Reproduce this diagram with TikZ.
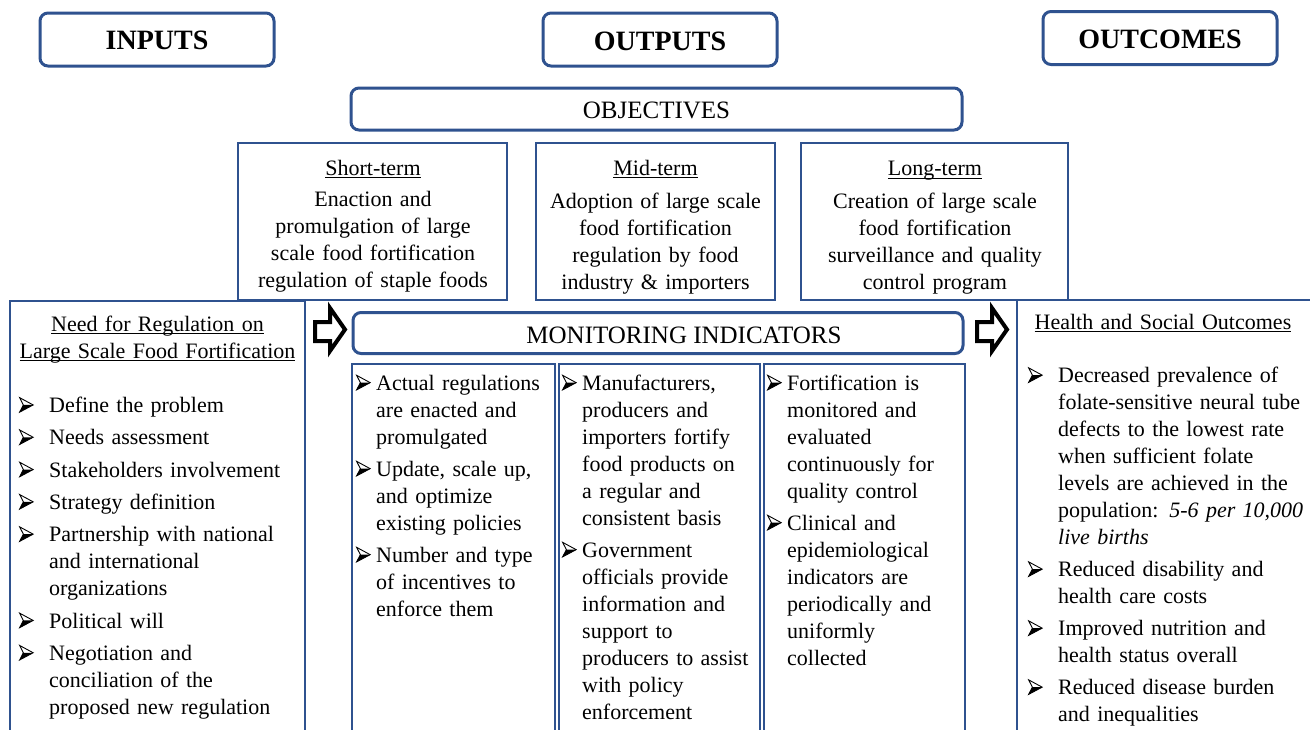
\documentclass[tikz,border=0pt]{standalone}
\usepackage{fontspec}
\setmainfont{Liberation Serif}
\definecolor{bblue}{RGB}{47,82,143}
\newcommand\bodyfont{\fontsize{22}{27}\selectfont}
\newsavebox\bulbox
\newcommand\bul{\usebox\bulbox}
\newcommand\nl{\hfil\break}
\newsavebox\ulbox
\newcommand\myul[1]{\leavevmode\sbox\ulbox{#1}\rlap{\rule[-3pt]{\wd\ulbox}{1.1pt}}\usebox\ulbox}
\newcommand\bitem[2][30pt]{\par\hangindent=#1\hangafter=1\noindent\strut\makebox[#1][l]{\bul}#2\strut\par}
\tikzset{
  hdr/.style={draw=bblue, line width=3pt, rounded corners=8pt, fill=white, inner sep=0pt, text depth=0pt},
  termbox/.style={draw=bblue, line width=1.4pt, fill=white, inner sep=0pt},
  bigbox/.style={draw=bblue, line width=2.6pt, fill=white, inner sep=0pt},
  colbox/.style={draw=bblue, line width=1.3pt, fill=white, inner sep=0pt},
  hdrtext/.style={font=\fontsize{28}{30}\selectfont\bfseries},
  subtext/.style={font=\fontsize{25}{28}\selectfont},
  txt/.style={inner sep=0pt, font=\bodyfont},
  blockarrow/.style={draw=black, line width=4pt, fill=white, line join=miter}
}
\begin{document}
\sbox\bulbox{\begin{pgfpicture}%
  \pgfsetlinewidth{0.9pt}\pgfsetmiterjoin
  \pgfpathmoveto{\pgfpoint{0.5pt}{14.5pt}}%
  \pgfpathlineto{\pgfpoint{14pt}{7.2pt}}%
  \pgfpathlineto{\pgfpoint{0.5pt}{0pt}}%
  \pgfpathlineto{\pgfpoint{4.2pt}{7.2pt}}%
  \pgfpathclose
  \pgfusepath{stroke}%
  \pgfpathmoveto{\pgfpoint{14pt}{7.2pt}}%
  \pgfpathlineto{\pgfpoint{0.5pt}{0pt}}%
  \pgfpathlineto{\pgfpoint{4.2pt}{7.2pt}}%
  \pgfpathclose
  \pgfusepath{fill}%
\end{pgfpicture}}%
\begin{tikzpicture}[x=1pt,y=-1pt]
\clip (0,0) rectangle (1310,729);
\fill[white] (0,0) rectangle (1310,729);
% headers
\node[hdr, minimum width=234pt, minimum height=53pt, hdrtext, text height=19.5pt] (inputs) at (157,39.5) {INPUTS};
\node[hdr, minimum width=234pt, minimum height=53pt, hdrtext, text height=21.5pt] (outputs) at (660,39.5) {OUTPUTS};
\node[hdr, minimum width=234pt, minimum height=53pt, hdrtext, text height=20.5pt] (outcomes) at (1160,38) {OUTCOMES};
\node[hdr, minimum width=611pt, minimum height=42pt, subtext, text height=18.4pt] (objectives) at (656.5,109) {OBJECTIVES};
% objective boxes
\node[termbox, minimum width=269pt, minimum height=157pt] (short) at (372.5,221.5) {};
\node[termbox, minimum width=239pt, minimum height=157pt] (mid) at (655.5,221.5) {};
\node[termbox, minimum width=267pt, minimum height=157pt] (long) at (934.5,221.5) {};
\node[txt, anchor=north, text width=262pt, align=center] (shorttxt) at (373,156.1)
  {\strut\myul{Short-term}\\[4pt] Enaction and\\ promulgation of large\\ scale food fortification\\ regulation of staple foods};
\node[txt, anchor=north, text width=236pt, align=center] (midtxt) at (655.5,156.1)
  {\strut\myul{Mid-term}\\[6pt] Adoption of large scale\\ food fortification\\ regulation by food\\ industry \& importers};
\node[txt, anchor=north, text width=262pt, align=center] (longtxt) at (935,156.6)
  {\strut\myul{Long-term}\\[6pt] Creation of large scale\\ food fortification\\ surveillance and quality\\ control program};
% big side boxes
\node[bigbox, minimum width=295pt, minimum height=459pt] (left) at (157.5,530.5) {};
\node[bigbox, minimum width=313pt, minimum height=460pt] (right) at (1173.5,530) {};
% monitoring
\node[hdr, minimum width=610pt, minimum height=41pt, subtext, text height=20.4pt] (monitor) at (658,333) {\hspace*{52pt}MONITORING INDICATORS};
\node[colbox, minimum width=203pt, minimum height=396pt] (col1) at (453.5,562) {};
\node[colbox, minimum width=201pt, minimum height=396pt] (col2) at (659.5,562) {};
\node[colbox, minimum width=201pt, minimum height=396pt] (col3) at (864.5,562) {};
% block arrows
\draw[blockarrow] (315,322) -- (330,322) -- (330,308) -- (345,329.5) -- (330,351) -- (330,341) -- (315,341) -- cycle;
\draw[blockarrow] (977,322) -- (992,322) -- (992,308) -- (1007,329.5) -- (992,351) -- (992,341) -- (977,341) -- cycle;
% left box text
\node[txt, anchor=north, text width=290pt, align=center] (lefttitle) at (157.5,312.1)
  {\strut\myul{Need for Regulation on}\\ \myul{Large Scale Food Fortification}\strut};
\node[txt, anchor=north west, text width=283pt, align=left] (leftitems) at (19,380.1)
  {\setlength\parskip{5.3pt}%
   \bitem{Define the problem}
   \bitem{Needs assessment}
   \bitem{Stakeholders involvement}
   \bitem{Strategy definition}
   \bitem{Partnership with national\nl and international\nl organizations}
   \bitem{Political will}
   \bitem{Negotiation and\nl conciliation of the\nl proposed new regulation}};
% right box text
\node[txt, anchor=north, text width=290pt, align=center] (righttitle) at (1163,310.1)
  {\strut\myul{Health and Social Outcomes}};
\node[txt, anchor=north west, text width=280pt, align=left] (rightitems) at (1028,350.6)
  {\setlength\parskip{5pt}%
   \bitem{Decreased prevalence of\nl folate-sensitive neural tube\nl defects to the lowest rate\nl when sufficient folate\nl levels are achieved in the\nl population: \textit{5-6 per 10,000}\nl \textit{live births}}
   \bitem{Reduced disability and\nl health care costs}
   \bitem{Improved nutrition and\nl health status overall}
   \bitem{Reduced disease burden\nl and inequalities}};
% monitoring columns text
\node[txt, anchor=north west, text width=196pt, align=left] (col1txt) at (356,358.1)
  {\setlength\parskip{5pt}%
   \bitem[20pt]{Actual regulations\nl are enacted and\nl promulgated}
   \bitem[20pt]{Update, scale up,\nl and optimize\nl existing policies}
   \bitem[20pt]{Number and type\nl of incentives to\nl enforce them}};
\node[txt, anchor=north west, text width=194pt, align=left] (col2txt) at (562,358.1)
  {\setlength\parskip{5pt}%
   \bitem[20pt]{Manufacturers,\nl producers and\nl importers fortify\nl food products on\nl a regular and\nl consistent basis}
   \bitem[20pt]{Government\nl officials provide\nl information and\nl support to\nl producers to assist\nl with policy\nl enforcement}};
\node[txt, anchor=north west, text width=194pt, align=left] (col3txt) at (767,358.1)
  {\setlength\parskip{5pt}%
   \bitem[20pt]{Fortification is\nl monitored and\nl evaluated\nl continuously for\nl quality control}
   \bitem[20pt]{Clinical and\nl epidemiological\nl indicators are\nl periodically and\nl uniformly\nl collected}};
\end{tikzpicture}
\end{document}
